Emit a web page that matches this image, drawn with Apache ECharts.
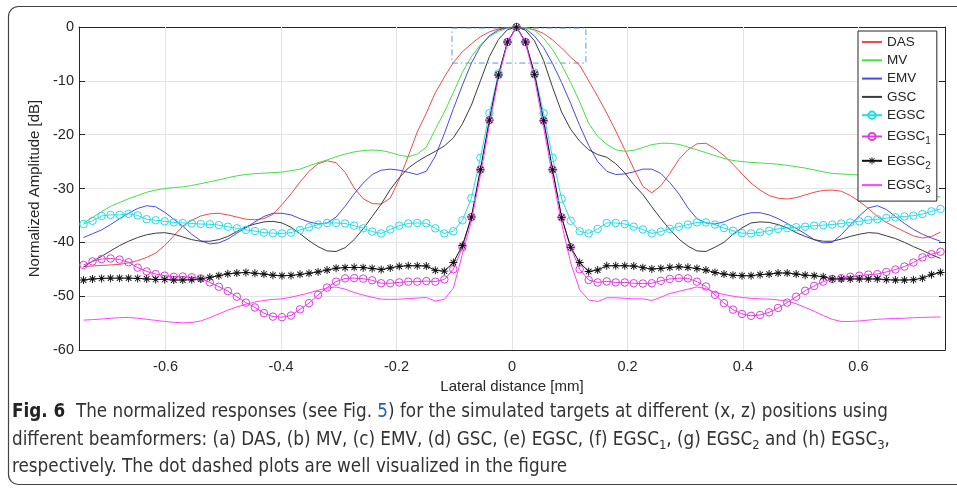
<!DOCTYPE html>
<html><head><meta charset="utf-8">
<script src="https://cdn.jsdelivr.net/npm/echarts@6/dist/echarts.min.js"></script>
<style>html,body{margin:0;padding:0;background:#fff}#c{width:957px;height:489px}</style>
</head><body><div id="c"></div><script>
// lateral positions (mm)
const xs = [-0.7422,-0.7266,-0.7109,-0.6953,-0.6797,-0.6641,-0.6484,-0.6328,-0.6172,-0.6016,
-0.5859,-0.5703,-0.5547,-0.5391,-0.5234,-0.5078,-0.4922,-0.4766,-0.4609,-0.4453,
-0.4297,-0.4141,-0.3984,-0.3828,-0.3672,-0.3516,-0.3359,-0.3203,-0.3047,-0.2891,
-0.2734,-0.2578,-0.2422,-0.2266,-0.2109,-0.1953,-0.1797,-0.1641,-0.1484,-0.1328,
-0.1172,-0.1016,-0.0859,-0.0703,-0.0547,-0.0391,-0.0234,-0.0078,
0.0078,0.0234,0.0391,0.0547,0.0703,0.0859,0.1016,0.1172,0.1328,0.1484,
0.1641,0.1797,0.1953,0.2109,0.2266,0.2422,0.2578,0.2734,0.2891,0.3047,
0.3203,0.3359,0.3516,0.3672,0.3828,0.3984,0.4141,0.4297,0.4453,0.4609,
0.4766,0.4922,0.5078,0.5234,0.5391,0.5547,0.5703,0.5859,0.6016,0.6172,
0.6328,0.6484,0.6641,0.6797,0.6953,0.7109,0.7266,0.7422];

const das = [-44.5,-44.4,-44.3,-44.2,-44.1,-43.8,-43.4,-42.8,-42.0,-40.6,
-38.8,-37.0,-35.9,-35.1,-34.7,-34.6,-34.9,-35.3,-35.7,-35.8,
-35.6,-34.8,-33.0,-31.0,-28.8,-26.8,-25.4,-24.85,-25.2,-27.0,
-29.9,-31.9,-32.8,-32.9,-31.8,-28.3,-24.0,-19.5,-16.0,-12.2,
-9.3,-6.6,-4.6,-3.1,-1.8,-0.9,-0.35,-0.1,
0,-0.1,-0.5,-1.2,-2.4,-3.9,-5.6,-7.1,-10.0,-12.9,
-16.0,-19.3,-22.8,-26.3,-29.6,-30.8,-29.5,-27.2,-24.6,-22.8,
-21.7,-21.6,-22.6,-23.9,-25.5,-27.3,-29.0,-30.3,-31.3,-31.8,
-31.95,-31.7,-31.2,-30.7,-30.35,-30.3,-30.5,-31.3,-32.4,-33.7,
-35.2,-36.3,-37.2,-38.0,-38.8,-39.2,-38.9,-38.1];

const mv = [-36.4,-35.4,-34.3,-33.3,-32.6,-31.9,-31.3,-30.7,-30.3,-30.0,
-29.8,-29.7,-29.45,-29.1,-28.75,-28.4,-28.0,-27.65,-27.4,-27.25,
-27.15,-27.05,-26.95,-26.7,-26.4,-25.8,-25.2,-24.7,-24.1,-23.6,
-23.2,-22.95,-22.85,-22.95,-23.3,-23.8,-24.1,-23.6,-22.3,-19.0,
-15.8,-12.2,-8.4,-5.5,-3.3,-1.8,-0.8,-0.2,
0,-0.15,-0.6,-2.1,-4.2,-7.0,-10.3,-13.9,-17.9,-20.3,
-21.8,-22.8,-23.1,-22.9,-22.4,-21.85,-21.6,-21.6,-21.8,-22.3,
-22.8,-23.35,-23.9,-24.4,-24.8,-25.0,-25.15,-25.25,-25.35,-25.5,
-25.7,-25.95,-26.2,-26.55,-26.9,-27.2,-27.3,-27.4,-27.5,-27.7,
-28.0,-28.5,-29.0,-29.6,-30.2,-30.8,-31.3,-31.6];

const emv = [-39.1,-38.4,-37.7,-36.7,-35.6,-34.6,-33.7,-33.2,-33.4,-34.4,
-35.7,-37.0,-38.5,-39.7,-40.3,-40.1,-39.4,-38.3,-37.3,-36.2,
-35.2,-34.6,-34.6,-34.9,-35.6,-36.2,-36.6,-36.4,-35.3,-33.3,
-31.0,-29.0,-27.4,-26.6,-26.4,-26.6,-27.0,-27.4,-26.8,-24.0,
-19.8,-15.2,-10.8,-6.7,-3.6,-1.6,-0.55,-0.1,
0,-0.3,-1.7,-3.8,-6.8,-10.3,-14.2,-18.3,-22.0,-25.0,
-26.8,-27.4,-27.3,-26.9,-26.4,-26.4,-27.2,-28.9,-31.0,-33.6,
-35.6,-36.4,-36.6,-36.2,-35.5,-34.9,-34.5,-34.5,-34.9,-35.6,
-36.5,-37.4,-38.4,-39.5,-40.1,-40.0,-38.6,-36.8,-35.1,-33.6,
-33.2,-33.9,-35.2,-36.5,-37.6,-38.5,-39.2,-39.8];

const gsc = [-44.6,-43.5,-42.6,-41.6,-40.6,-39.8,-39.1,-38.6,-38.3,-38.2,
-38.5,-39.0,-39.5,-39.8,-39.8,-39.5,-38.9,-38.0,-37.1,-36.6,
-36.2,-36.1,-36.4,-37.2,-38.4,-39.7,-40.8,-41.6,-41.7,-41.0,
-39.5,-37.5,-35.2,-32.9,-30.2,-28.0,-26.2,-25.0,-24.0,-23.1,
-22.1,-20.6,-18.0,-14.5,-10.0,-5.5,-2.3,-0.5,
0,-0.6,-2.6,-6.2,-11.2,-15.8,-19.0,-21.2,-22.8,-23.7,
-24.2,-25.4,-27.1,-29.3,-31.1,-33.4,-35.6,-37.6,-39.4,-40.7,
-41.6,-41.7,-40.9,-40.0,-38.5,-37.3,-36.4,-36.2,-36.3,-36.7,
-37.3,-38.2,-38.9,-39.5,-39.8,-39.8,-39.4,-38.9,-38.5,-38.2,
-38.3,-38.8,-39.3,-40.0,-40.8,-41.5,-42.3,-43.0];

const egsc = [-36.6,-36.0,-35.1,-34.9,-34.9,-34.7,-35.0,-35.7,-35.9,-36.1,
-36.3,-36.4,-36.5,-36.6,-36.65,-36.8,-37.1,-37.4,-37.7,-37.9,
-38.2,-38.3,-38.35,-38.2,-37.7,-37.2,-36.7,-36.4,-36.4,-36.5,
-36.9,-37.4,-38.0,-38.35,-37.6,-36.9,-36.5,-36.4,-36.45,-37.4,
-38.35,-37.95,-35.9,-31.8,-24.3,-16.0,-8.6,-2.8,
0,-2.8,-8.5,-16.0,-24.3,-31.9,-36.0,-37.95,-38.35,-37.5,
-36.4,-36.4,-36.6,-37.1,-37.6,-38.35,-38.0,-37.5,-37.1,-36.7,
-36.3,-36.3,-36.7,-37.35,-37.85,-38.3,-38.35,-38.15,-37.85,-37.5,
-37.35,-37.2,-37.1,-36.9,-36.8,-36.7,-36.5,-36.3,-36.1,-35.85,
-35.7,-35.5,-35.35,-35.2,-35.05,-34.75,-34.25,-33.8];

const egsc1 = [-44.2,-43.55,-43.1,-43.0,-43.2,-43.7,-44.7,-45.4,-45.9,-46.2,
-46.4,-46.35,-46.5,-46.7,-47.45,-48.25,-49.05,-50.1,-51.2,-52.1,
-53.15,-53.8,-53.9,-53.6,-52.45,-51.3,-49.75,-48.4,-47.3,-46.7,
-46.65,-46.75,-47.05,-47.6,-47.6,-47.45,-47.3,-47.3,-47.2,-47.3,
-46.9,-45.0,-40.9,-35.3,-26.5,-17.3,-8.9,-2.8,
0,-2.8,-8.8,-17.4,-26.5,-35.35,-40.9,-45.0,-47.0,-47.45,
-47.25,-47.45,-47.45,-47.6,-47.65,-47.6,-47.15,-46.8,-46.65,-46.7,
-47.3,-48.2,-49.75,-51.3,-52.5,-53.3,-53.65,-53.5,-53.0,-52.2,
-51.2,-50.1,-49.0,-48.1,-47.3,-46.8,-46.65,-46.4,-46.2,-46.0,
-45.9,-45.5,-45.05,-44.5,-43.75,-42.8,-42.2,-41.75];

const egsc2 = [-47.0,-46.8,-46.7,-46.65,-46.65,-46.65,-46.7,-46.8,-46.9,-46.9,
-47.0,-47.0,-46.95,-46.8,-46.5,-46.2,-45.85,-45.7,-45.6,-45.75,
-45.9,-46.1,-46.2,-46.15,-45.95,-45.75,-45.5,-45.15,-44.8,-44.7,
-44.65,-44.7,-44.85,-45.05,-44.75,-44.45,-44.35,-44.35,-44.4,-45.2,
-45.35,-43.75,-40.6,-35.3,-26.5,-17.3,-8.9,-2.8,
0,-2.8,-8.8,-17.4,-26.5,-35.35,-40.9,-43.75,-45.4,-45.15,
-44.35,-44.35,-44.35,-44.4,-44.7,-44.95,-44.85,-44.65,-44.55,-44.65,
-44.85,-45.15,-45.6,-45.9,-46.1,-46.2,-46.2,-46.0,-45.9,-45.7,
-45.7,-45.9,-46.1,-46.2,-46.4,-46.8,-46.8,-46.8,-46.8,-46.8,
-46.8,-46.95,-47.0,-47.0,-46.95,-46.65,-46.0,-45.6];

const egsc3 = [-54.45,-54.35,-54.25,-54.1,-54.0,-53.95,-54.1,-54.3,-54.5,-54.7,
-54.85,-54.95,-54.9,-54.6,-54.0,-53.3,-52.6,-52.0,-51.5,-51.1,
-50.8,-50.6,-50.5,-50.2,-49.8,-49.4,-48.9,-48.5,-48.3,-48.7,
-49.3,-49.8,-50.2,-50.55,-50.6,-50.55,-50.45,-50.35,-50.25,-50.9,
-50.6,-48.5,-42.2,-36.0,-27.5,-18.2,-9.5,-3.0,
0,-3.0,-9.6,-18.6,-27.8,-36.5,-43.8,-48.8,-50.7,-51.0,
-50.3,-50.3,-50.4,-50.5,-50.5,-50.8,-50.2,-49.5,-49.1,-48.7,
-48.3,-48.6,-49.3,-49.7,-50.0,-50.25,-50.4,-50.5,-50.55,-50.7,
-50.9,-51.4,-52.1,-52.8,-53.6,-54.3,-54.7,-54.7,-54.6,-54.45,
-54.3,-54.2,-54.15,-54.1,-54.0,-53.95,-53.9,-53.85];

const xTicks = [-0.6,-0.4,-0.2,0,0.2,0.4,0.6];
const yTicksMin = -60, yTicksMax = 0, yStep = 10;
const zoomBox = [[-0.104,-0.2],[0.128,-6.7]];
const names = ['DAS','MV','EMV','GSC','EGSC','EGSC1','EGSC2','EGSC3'];
const lineOnly = ['DAS','MV','EMV','GSC','EGSC3'];

const F = "'Liberation Sans', Arial, Helvetica, sans-serif";
const CF = "'Liberation Sans Narrow','DejaVu Sans Condensed','Roboto Condensed','Noto Sans',sans-serif";
const AX = '#262626', GRID = '#e4e4e4';
const pairs = ys => xs.map((x, i) => [x, ys[i]]);
const STAR = 'path://M0 4.4L10 4.4L10 5.6L0 5.6Z M4.4 0L5.6 0L5.6 10L4.4 10Z M1.1 1.9L1.9 1.1L8.9 8.1L8.1 8.9Z M8.1 1.1L8.9 1.9L1.9 8.9L1.1 8.1Z';

function plain(name, data, color) {
  return {name, type:'line', data:pairs(data), symbol:'none', showSymbol:false,
    lineStyle:{color, width:1}, itemStyle:{color}, emphasis:{disabled:true}, z:2};
}
function marked(name, data, color, symbol, size, fill) {
  return {name, type:'line', data:pairs(data), symbol, symbolSize:size, showSymbol:true, showAllSymbol:true,
    lineStyle:{color, width:1}, itemStyle:{color:fill, borderColor:color, borderWidth:fill==='rgba(0,0,0,0)'?1:0},
    emphasis:{disabled:true}, z:2};
}

const series = [
  {name:'grid', type:'line', data:[], z:1, silent:true,
   markLine:{silent:true, z:1, symbol:['none','none'], label:{show:false}, emphasis:{disabled:true},
     lineStyle:{color:GRID, width:1, type:'solid'}, data:xTicks.map(v => ({xAxis:v}))},
   markArea:{silent:true, z:1, itemStyle:{color:'rgba(0,0,0,0)', borderColor:'#5b9bd5', borderWidth:1, borderType:[6,3,1.5,3]},
     data:[[{coord:zoomBox[0]},{coord:zoomBox[1]}]]}},
  plain('DAS', das, '#f04a4a'),
  plain('MV', mv, '#45e045'),
  plain('EMV', emv, '#4848e8'),
  plain('GSC', gsc, '#3c3c3c'),
  marked('EGSC', egsc, '#22dde8', 'circle', 7.5, 'rgba(0,0,0,0)'),
  marked('EGSC1', egsc1, '#e03ce0', 'circle', 7.5, 'rgba(0,0,0,0)'),
  marked('EGSC2', egsc2, '#111111', STAR, 8, '#111111'),
  plain('EGSC3', egsc3, '#ff44ff')
];

const CS = 18.7;
const capRich = {
  b:{fontWeight:'bold', fontFamily:CF, fontSize:CS, fill:'#222'},
  l:{fill:'#1f5fb0', fontFamily:CF, fontSize:CS},
  s:{fontSize:13, lineHeight:13, padding:[11,0,0,0], fontFamily:CF, fill:'#333'}
};
const capLine = (text, y) => ({type:'text', x:12, y, silent:true,
  style:{text, fontFamily:CF, fontSize:CS, fill:'#333', verticalAlign:'middle', lineHeight:22, rich:capRich}});

const option = {
  animation:false,
  backgroundColor:'#fff',
  grid:{left:79, top:27, right:12, bottom:139, containLabel:false},
  legend:{
    data:names.map(n => lineOnly.includes(n) ? {name:n, itemStyle:{color:'rgba(0,0,0,0)', borderWidth:0, opacity:0}} : n),
    orient:'vertical', left:858, top:31,
    itemWidth:20, itemHeight:9, itemGap:4.3, padding:[4,6,6,3],
    borderColor:AX, borderWidth:1, backgroundColor:'#fff', selectedMode:false,
    formatter: n => { const m = n.match(/^EGSC(\d)$/); return m ? '{n|EGSC}{s|' + m[1] + '}' : n; },
    textStyle:{fontFamily:F, fontSize:13.5, color:AX, lineHeight:14,
      rich:{n:{fontFamily:F, fontSize:13.5, lineHeight:14, color:AX},
            s:{fontFamily:F, fontSize:10, lineHeight:10, padding:[10,0,0,0], color:AX}}}
  },
  xAxis:[{
    type:'value', min:-0.75, max:0.75, position:'bottom',
    axisLine:{show:true, onZero:false, lineStyle:{color:AX, width:1}},
    axisTick:{show:true, inside:true, length:6, customValues:xTicks, lineStyle:{color:AX}},
    axisLabel:{customValues:xTicks, fontFamily:F, fontSize:14.5, color:AX, margin:9},
    splitLine:{show:false},
    name:'Lateral distance [mm]', nameLocation:'middle', nameGap:25,
    nameTextStyle:{fontFamily:F, fontSize:15, color:AX}
  },{
    type:'value', min:-0.75, max:0.75, position:'top',
    axisLine:{show:true, onZero:false, lineStyle:{color:AX, width:1}},
    axisTick:{show:true, inside:true, length:6, customValues:xTicks, lineStyle:{color:AX}},
    axisLabel:{show:false}, splitLine:{show:false}
  }],
  yAxis:[{
    type:'value', min:yTicksMin, max:yTicksMax, interval:yStep,
    axisLine:{show:true, onZero:false, lineStyle:{color:AX, width:1}},
    axisTick:{show:true, inside:true, length:6, lineStyle:{color:AX}},
    axisLabel:{fontFamily:F, fontSize:14.5, color:AX, margin:5},
    splitLine:{show:true, lineStyle:{color:GRID, width:1}},
    name:'Normalized Amplitude [dB]', nameLocation:'middle', nameGap:33,
    nameTextStyle:{fontFamily:F, fontSize:15, color:AX}
  },{
    type:'value', min:yTicksMin, max:yTicksMax, interval:yStep, position:'right',
    axisLine:{show:true, onZero:false, lineStyle:{color:AX, width:1}},
    axisTick:{show:true, inside:true, length:6, lineStyle:{color:AX}},
    axisLabel:{show:false}, splitLine:{show:false}
  }],
  series,
  graphic:[
    {type:'rect', silent:true, z:-10, shape:{x:8.5, y:6.5, width:1000, height:478, r:10},
     style:{fill:'none', stroke:'#444', lineWidth:1.2}},
    capLine('{b|Fig. 6}  The normalized responses (see Fig. {l|5}) for the simulated targets at different (x, z) positions using', 412),
    capLine('different beamformers: (a) DAS, (b) MV, (c) EMV, (d) GSC, (e) EGSC, (f) EGSC{s|1}, (g) EGSC{s|2} and (h) EGSC{s|3},', 440),
    capLine('respectively. The dot dashed plots are well visualized in the figure', 467)
  ]
};
const chart = echarts.init(document.getElementById('c'), null, {renderer:'canvas'});
chart.setOption(option);
</script></body></html>
